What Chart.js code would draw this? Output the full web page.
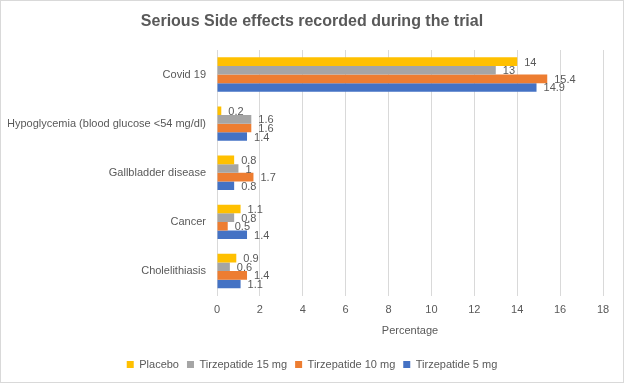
<!DOCTYPE html>
<html><head><meta charset="utf-8">
<script src="https://cdn.jsdelivr.net/npm/chart.js@4/dist/chart.umd.min.js"></script>
<style>
html,body{margin:0;padding:0;background:#fff;}
#wrap{position:relative;width:622px;height:381px;border:1px solid #d9d9d9;}
</style></head>
<body><div id="wrap"><canvas id="c" width="622" height="381"></canvas></div>
<script>
const categories = ["Covid 19", "Hypoglycemia (blood glucose <54 mg/dl)", "Gallbladder disease", "Cancer", "Cholelithiasis"];
const placebo = [14, 0.2, 0.8, 1.1, 0.9];
const tirz15 = [13, 1.6, 1, 0.8, 0.6];
const tirz10 = [15.4, 1.6, 1.7, 0.5, 1.4];
const tirz5 = [14.9, 1.4, 0.8, 1.4, 1.1];
const xTicks = [0, 2, 4, 6, 8, 10, 12, 14, 16, 18];

const FONT = "'Liberation Sans', Arial, sans-serif";
const TXT = '#595959';

const labelPlugin = {
  id: 'barLabels',
  afterLayout(chart) {
    // center title and legend over the whole canvas rather than the padded box
    const dx = 6.5;
    [chart.titleBlock, chart.legend].forEach(b => { if (b) { b.left += dx; b.right += dx; } });
  },
  afterDatasetsDraw(chart) {
    const ctx = chart.ctx;
    ctx.save();
    ctx.font = '11px ' + FONT;
    ctx.fillStyle = TXT;
    ctx.textAlign = 'left';
    ctx.textBaseline = 'middle';
    chart.data.datasets.forEach((ds, di) => {
      const meta = chart.getDatasetMeta(di);
      meta.data.forEach((el, i) => {
        ctx.fillText(String(ds.data[i]), el.x + 7, el.y + 1);
      });
    });
    ctx.restore();
  }
};

new Chart(document.getElementById('c'), {
  type: 'bar',
  data: {
    labels: categories,
    datasets: [
      {label: 'Placebo', data: placebo, backgroundColor: '#FFC000'},
      {label: 'Tirzepatide 15 mg', data: tirz15, backgroundColor: '#A5A5A5'},
      {label: 'Tirzepatide 10 mg', data: tirz10, backgroundColor: '#ED7D31'},
      {label: 'Tirzepatide 5 mg', data: tirz5, backgroundColor: '#4472C4'}
    ]
  },
  options: {
    indexAxis: 'y',
    responsive: false,
    animation: false,
    layout: {padding: {left: 7, right: 20, top: 8, bottom: 2}},
    datasets: {bar: {categoryPercentage: 0.7, barPercentage: 1.0}},
    scales: {
      x: {
        min: 0, max: 18,
        afterBuildTicks(s) { s.ticks = xTicks.map(v => ({value: v})); },
        grid: {color: '#d9d9d9', drawTicks: false},
        border: {display: false},
        ticks: {color: TXT, font: {family: FONT, size: 11}, padding: 8},
        title: {display: true, text: 'Percentage', color: TXT, font: {family: FONT, size: 11}, padding: {top: 0, bottom: 13}}
      },
      y: {
        afterFit(s) { s.width = 209; },
        grid: {display: false, drawTicks: false},
        border: {display: false},
        ticks: {color: TXT, font: {family: FONT, size: 11}, padding: 11}
      }
    },
    plugins: {
      title: {display: true, text: 'Serious Side effects recorded during the trial', color: TXT,
        font: {family: FONT, size: 16, weight: 'bold'}, padding: {top: 3.4, bottom: 18.4}},
      legend: {position: 'bottom', labels: {boxWidth: 7, boxHeight: 7, color: TXT,
        font: {family: FONT, size: 11}, padding: 8}},
      tooltip: {enabled: false}
    }
  },
  plugins: [labelPlugin]
});
</script></body></html>
